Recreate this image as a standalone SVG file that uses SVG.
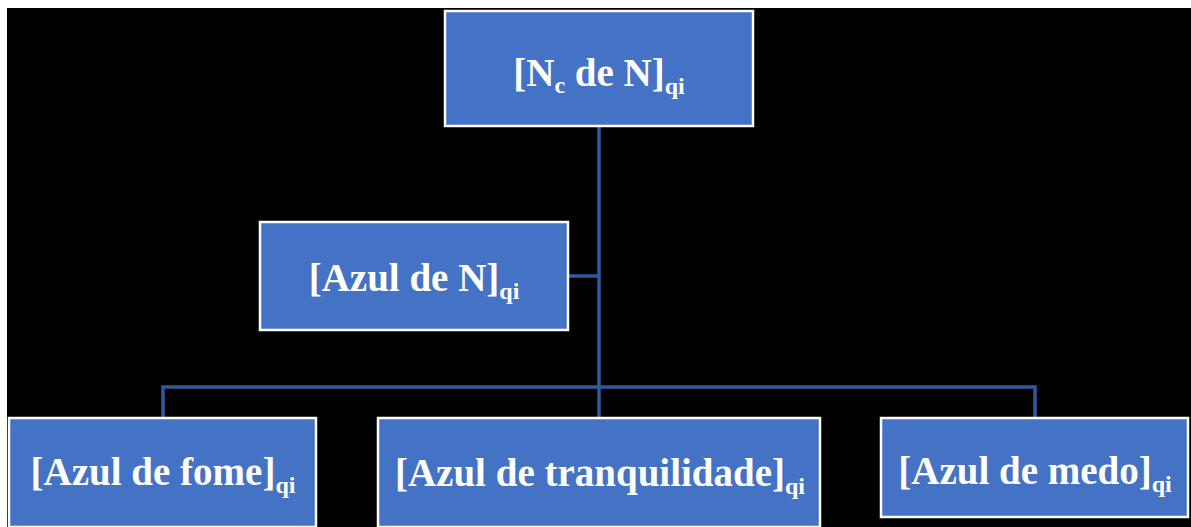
<svg xmlns="http://www.w3.org/2000/svg" width="1191" height="527" viewBox="0 0 1191 527">
<style>
.box{fill:#4472C4;stroke:#FFFFFF;stroke-width:2.5}
.lbl{font-family:"Liberation Serif","Times New Roman",serif;font-weight:bold;font-size:39px;fill:#FFFFFF;text-anchor:middle}
.sub{font-size:24px}
.conn{fill:none;stroke:#3158A0;stroke-width:3.5}
</style>
<rect x="0" y="0" width="1191" height="527" fill="#FFFFFF"/>
<rect x="7" y="8" width="1184" height="519" fill="#000000"/>
<g id="connectors">
<path class="conn" d="M599 126 V418"/>
<path class="conn" d="M568 276 H599"/>
<path class="conn" d="M163 418 V387 H1035 V418"/>
</g>
<g id="node-top">
<rect class="box" x="445" y="11" width="308" height="115"/>
<text class="lbl" x="599" y="86">[N<tspan class="sub" dy="7">c</tspan><tspan dy="-7"> de N]</tspan><tspan class="sub" dy="8">qi</tspan></text>
</g>
<g id="node-azul-n">
<rect class="box" x="260" y="222" width="308" height="108"/>
<text class="lbl" x="414" y="291">[Azul de N]<tspan class="sub" dy="8">qi</tspan></text>
</g>
<g id="node-fome">
<rect class="box" x="9" y="418" width="307" height="109"/>
<text class="lbl" x="163" y="485">[Azul de fome]<tspan class="sub" dy="8">qi</tspan></text>
</g>
<g id="node-tranquilidade">
<rect class="box" x="378" y="418" width="442" height="109"/>
<text class="lbl" x="600" y="486">[Azul de tranquilidade]<tspan class="sub" dy="8">qi</tspan></text>
</g>
<g id="node-medo">
<rect class="box" x="881" y="418" width="307" height="99"/>
<text class="lbl" x="1035" y="484">[Azul de medo]<tspan class="sub" dy="8">qi</tspan></text>
</g>
</svg>
